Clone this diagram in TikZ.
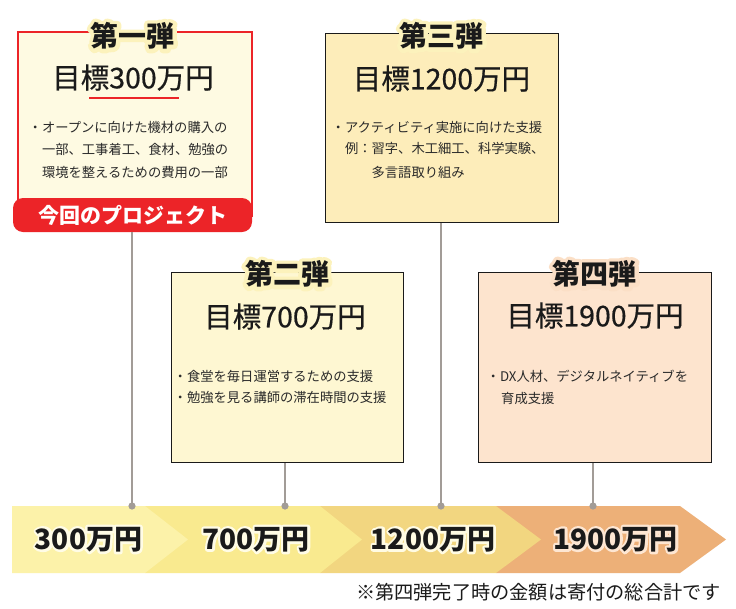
\documentclass[tikz,border=0pt]{standalone}
\usepackage{fontspec}
\setmainfont{Noto Sans CJK JP}
\usetikzlibrary{calc}
\definecolor{redc}{HTML}{EC2428}
\definecolor{ink}{HTML}{1A1A1A}
\definecolor{txt}{HTML}{2A2A2A}
\definecolor{fillA}{HTML}{FEFAE2}
\definecolor{fillB}{HTML}{FEF7D2}
\definecolor{fillC}{HTML}{FDEDBA}
\definecolor{fillD}{HTML}{FDE4CE}
\definecolor{segA}{HTML}{FCF2A9}
\definecolor{segB}{HTML}{F9EA8F}
\definecolor{segC}{HTML}{F2D680}
\definecolor{segD}{HTML}{EDB078}
\definecolor{conn}{HTML}{A29C97}
% #1 name, #2 position, #3 halo rgb, #4 halo stroke width, #5 font, #6 text
\newcommand\halolabel[6]{%
  \node[font=#5,inner sep=0] at (#2)
    {\special{pdf:literal direct 1 Tr #4 w 1 j 1 J #3 RG}#6\special{pdf:literal direct 0 Tr}};
  \node[text=ink,font=#5,inner sep=0] (#1) at (#2) {#6};%
}
\newcommand\titlefont{\fontsize{28}{32}\selectfont\bfseries}
\newcommand\goalfont{\fontsize{28.5}{32}\selectfont\addfontfeature{FakeBold=0.6}}
\newcommand\bandfont{\fontsize{28}{32}\selectfont\bfseries}
\begin{document}
\begin{tikzpicture}[x=1pt,y=-1pt,
  boxst/.style={draw=ink,line width=1,inner sep=0,anchor=north west},
  goal/.style={font=\goalfont,text=ink,inner sep=0},
  bullet/.style={font=\fontsize{13.3}{16}\selectfont,text=txt,inner sep=0,anchor=west},
  connst/.style={draw=conn,line width=2},
  dotst/.style={fill=conn}]
\useasboundingbox[fill=white] (0,0) rectangle (736,608);

% boxes
\node[boxst,draw=redc,line width=1.5,fill=fillA,minimum width=234,minimum height=184] (box1) at (17,31) {};
\node[boxst,fill=fillC,minimum width=233,minimum height=189] (box3) at (325,33) {};
\node[boxst,fill=fillB,minimum width=232,minimum height=190] (box2) at (171,272) {};
\node[boxst,fill=fillD,minimum width=233,minimum height=190] (box4) at (478,272) {};

% titles
\halolabel{t1}{132.5,36}{0.988 0.949 0.737}{8}{\titlefont}{第一弾}
\halolabel{t3}{441.5,36}{0.988 0.949 0.737}{8}{\titlefont}{第三弾}
\halolabel{t2}{287,274}{0.988 0.949 0.737}{8}{\titlefont}{第二弾}
\halolabel{t4}{594.5,274}{0.984 0.875 0.776}{8}{\titlefont}{第四弾}

% goals
\node[goal] (g1) at (133,77.5) {目標300万円};
\node[goal] (g3) at (441.5,78.5) {目標1200万円};
\node[goal] (g2) at (285,316.5) {目標700万円};
\node[goal] (g4) at (595,315.5) {目標1900万円};
\draw[redc,line width=2.5] (89,98) -- (179,98);

% bullets
\node[bullet] (b1a) at (28.5,127) {・オープンに向けた機材の購入の};
\node[bullet] (b1b) at (41.8,149) {一部、工事着工、食材、勉強の};
\node[bullet] (b1c) at (41.8,172) {環境を整えるための費用の一部};
\node[bullet] (b3a) at (331.5,127) {・アクティビティ実施に向けた支援};
\node[bullet] (b3b) at (344.8,148) {例：習字、木工細工、科学実験、};
\node[bullet] (b3c) at (371.4,172) {多言語取り組み};
\node[bullet] (b2a) at (173.5,376) {・食堂を毎日運営するための支援};
\node[bullet] (b2b) at (173.5,397.5) {・勉強を見る講師の滞在時間の支援};
\node[bullet] (b4a) at (486.5,376) {・DX人材、デジタルネイティブを};
\node[bullet] (b4b) at (501,398) {育成支援};

% current project label
\node[fill=redc,rounded corners=10,minimum width=239,minimum height=34,inner sep=0,
      text=white,font=\fontsize{21}{24}\selectfont\bfseries] (lab) at (132.5,215) {今回のプロジェクト};

% band
\fill[segD] (496,506) -- (680,506) -- (726,539.5) -- (680,573) -- (496,573) -- cycle;
\fill[segC] (320,506) -- (496,506) -- (541,539.5) -- (496,573) -- (320,573) -- cycle;
\fill[segB] (145,506) -- (320,506) -- (362,539.5) -- (320,573) -- (145,573) -- cycle;
\fill[segA] (12,506) -- (145,506) -- (188,539.5) -- (145,573) -- (12,573) -- cycle;

\halolabel{v1}{88.5,539.5}{1 0.988 0.902}{5}{\bandfont}{300万円}
\halolabel{v2}{256,539.5}{1 0.988 0.902}{5}{\bandfont}{700万円}
\halolabel{v3}{433,539.5}{1 0.985 0.890}{5}{\bandfont}{1200万円}
\halolabel{v4}{615.5,539.5}{0.992 0.902 0.824}{5}{\bandfont}{1900万円}

% connectors
\coordinate (d1) at (132,506);
\coordinate (d2) at (285,506);
\coordinate (d3) at (441,506);
\coordinate (d4) at (593,506);
\draw[connst] (lab.south -| d1) -- (d1);
\draw[connst] (box2.south -| d2) -- (d2);
\draw[connst] (box3.south -| d3) -- (d3);
\draw[connst] (box4.south -| d4) -- (d4);
\foreach \d in {d1,d2,d3,d4}{\fill[dotst] (\d) circle[radius=3.6];}

% footnote
\node[font=\fontsize{19.2}{22}\selectfont,text=ink,inner sep=0,anchor=east] (note) at (721,592) {※第四弾完了時の金額は寄付の総合計です};
\end{tikzpicture}
\end{document}
